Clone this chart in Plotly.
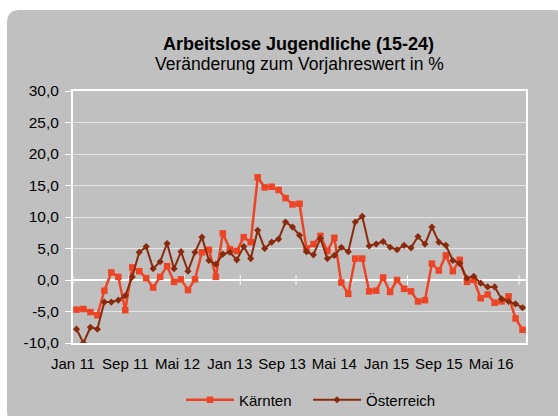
import plotly.graph_objects as go

# ---------------- data ----------------
month_names = ["Jan", "Feb", "Mär", "Apr", "Mai", "Jun", "Jul", "Aug", "Sep", "Okt", "Nov", "Dez"]
months = [f"{month_names[m % 12]} {11 + m // 12}" for m in range(65)]  # Jan 11 .. Mai 16

kaernten = [-4.7, -4.6, -5.1, -5.6, -1.7, 1.2, 0.5, -4.8, 2.0, 1.4,
            0.3, -1.2, 0.5, 2.2, -0.3, 0.1, -1.6, 0.1, 4.4, 4.8,
            0.5, 7.4, 4.9, 4.6, 6.8, 6.0, 16.3, 14.7, 14.8, 14.3,
            13.0, 12.0, 12.1, 5.0, 5.7, 7.0, 4.6, 6.7, -0.4, -2.2,
            3.4, 3.4, -1.8, -1.7, 0.4, -1.9, 0.0, -1.4, -1.8, -3.4,
            -3.2, 2.6, 1.5, 3.9, 1.4, 3.2, -0.3, 0.0, -2.9, -2.3,
            -3.6, -3.4, -2.6, -6.1, -7.9]

oesterreich = [-7.8, -10.0, -7.5, -7.8, -3.5, -3.5, -3.2, -2.5, 0.5, 4.4,
               5.3, 1.8, 2.9, 5.8, 1.8, 4.5, 1.4, 4.4, 6.8, 3.1,
               2.5, 4.1, 4.4, 3.2, 5.3, 3.4, 7.9, 5.0, 6.0, 6.5,
               9.2, 8.4, 7.1, 4.5, 4.0, 6.6, 3.4, 3.9, 5.2, 4.5,
               9.2, 10.1, 5.4, 5.7, 6.1, 5.2, 4.8, 5.5, 5.1, 6.9,
               5.7, 8.4, 6.0, 5.5, 3.1, 2.6, 0.3, 0.6, -0.5, -1.1,
               -1.1, -3.0, -3.4, -3.8, -4.4]

tick_labels = ["Jan 11", "Sep 11", "Mai 12", "Jan 13", "Sep 13", "Mai 14", "Jan 15", "Sep 15", "Mai 16"]
y_ticks = [-10, -5, 0, 5, 10, 15, 20, 25, 30]

# ---------------- layout helpers ----------------
W, H = 558, 416
ML, MR, MT, MB = 73, 32, 91, 73
PW, PH = W - ML - MR, H - MT - MB

def px(x):
    return (x - ML) / PW

def py(y):
    return (H - MB - y) / PH

x_idx = list(range(len(months)))
label_pos = [-0.5 + 7.5 * k for k in range(len(tick_labels))]
boundary_ticks = [-0.5 + 8 * k for k in range(9)]

FONT = "Liberation Sans, Arial, sans-serif"
C_K = "#EC4424"
C_O = "#8A2A0C"

fig = go.Figure()

# small white tick marks on the zero line (category boundaries)
fig.add_trace(go.Scatter(
    x=boundary_ticks, y=[0] * len(boundary_ticks), mode="markers",
    marker=dict(symbol="line-ns", size=7, line=dict(color="white", width=1)),
    showlegend=False, hoverinfo="skip", cliponaxis=False))

fig.add_trace(go.Scatter(
    x=x_idx, y=kaernten, name="Kärnten", mode="lines+markers",
    text=months, hovertemplate="%{text}: %{y:.1f}<extra>Kärnten</extra>",
    line=dict(color=C_K, width=2.5),
    marker=dict(symbol="square", size=6.5, color=C_K)))

fig.add_trace(go.Scatter(
    x=x_idx, y=oesterreich, name="Österreich", mode="lines+markers",
    text=months, hovertemplate="%{text}: %{y:.1f}<extra>Österreich</extra>",
    line=dict(color=C_O, width=2),
    marker=dict(symbol="diamond", size=5.5, color=C_O)))

# rounded grey panel
x0, x1, y0, y1, r = px(7), px(566), py(10), py(424), 13
rx, ry = r / PW, r / PH
path = (f"M {x0},{y0 - ry} L {x0},{y1 + ry} Q {x0},{y1} {x0 + rx},{y1} "
        f"L {x1 - rx},{y1} Q {x1},{y1} {x1},{y1 + ry} L {x1},{y0 - ry} "
        f"Q {x1},{y0} {x1 - rx},{y0} L {x0 + rx},{y0} Q {x0},{y0} {x0},{y0 - ry} Z")
fig.add_shape(type="path", path=path, xref="paper", yref="paper",
              fillcolor="#C0C0C0", line=dict(width=0), layer="below")

fig.add_annotation(text="<b>Arbeitslose Jugendliche (15-24)</b>", xref="paper", yref="paper",
                   x=px(298.5), y=py(43.5), xanchor="center", yanchor="middle", showarrow=False,
                   font=dict(family=FONT, size=18, color="#000000"))
fig.add_annotation(text="Veränderung zum Vorjahreswert in %", xref="paper", yref="paper",
                   x=px(299.5), y=py(64.5), xanchor="center", yanchor="middle", showarrow=False,
                   font=dict(family=FONT, size=17.5, color="#000000"))

fig.update_layout(
    width=W, height=H,
    margin=dict(l=ML, r=MR, t=MT, b=MB, pad=0, autoexpand=False),
    paper_bgcolor="white",
    plot_bgcolor="rgba(0,0,0,0)",
    font=dict(family=FONT, size=15, color="#000000"),
    showlegend=True,
    legend=dict(orientation="h", x=px(181), y=py(400), xanchor="left", yanchor="middle",
                bgcolor="rgba(0,0,0,0)", font=dict(size=15), itemwidth=48,
                entrywidth=64, entrywidthmode="pixels", tracegroupgap=0),
    hovermode="closest",
)

fig.update_xaxes(
    range=[-0.5, 64.5], tickmode="array", tickvals=label_pos, ticktext=tick_labels,
    ticks="", showgrid=False, zeroline=False, automargin=False,
    showline=True, mirror=True, linecolor="white", linewidth=2,
    tickfont=dict(size=15), ticklabelstandoff=6,
)
fig.update_yaxes(
    range=[-10, 30], tickmode="array", tickvals=y_ticks,
    ticktext=[f"{v:.1f}".replace(".", ",") for v in y_ticks],
    ticks="outside", ticklen=6, tickcolor="white", tickwidth=1,
    showgrid=True, gridcolor="#E4E4E4", gridwidth=1, automargin=False,
    zeroline=True, zerolinecolor="white", zerolinewidth=2,
    showline=True, mirror=True, linecolor="white", linewidth=2,
    tickfont=dict(size=15.5), ticklabelstandoff=3,
)

fig.write_html("out.html", config={"displayModeBar": False},
               post_script="document.body.style.margin='0';document.body.style.overflow='hidden';")
